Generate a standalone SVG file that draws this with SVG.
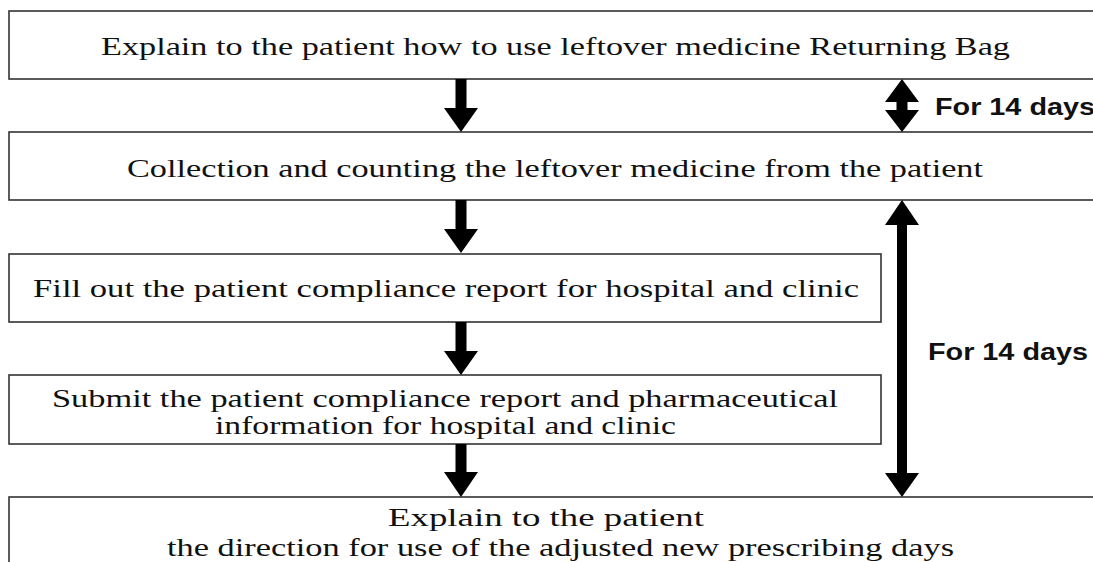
<svg xmlns="http://www.w3.org/2000/svg" width="1093" height="562" viewBox="0 0 1093 562">
  <style>
    .box { fill: #ffffff; stroke: #333333; stroke-width: 1.6; }
    .lbl { font-family: "Liberation Serif", "DejaVu Serif", serif; font-size: 26px; fill: #111111; }
    .span { font-family: "Liberation Sans", Arial, sans-serif; font-weight: bold; font-size: 23px; fill: #111111; }
    .arrow { fill: #000000; }
  </style>
  <rect width="1093" height="562" fill="#ffffff"/>

  <g id="step-explain-bag">
    <rect class="box" x="9" y="11" width="1100" height="68"/>
    <text class="lbl" x="101" y="55" textLength="909" lengthAdjust="spacingAndGlyphs">Explain to the patient how to use leftover medicine Returning Bag</text>
  </g>

  <g id="step-collect">
    <rect class="box" x="9" y="132" width="1100" height="68"/>
    <text class="lbl" x="127" y="177" textLength="856" lengthAdjust="spacingAndGlyphs">Collection and counting the leftover medicine from the patient</text>
  </g>

  <g id="step-fill-report">
    <rect class="box" x="9" y="254" width="872" height="68"/>
    <text class="lbl" x="33" y="297" textLength="826" lengthAdjust="spacingAndGlyphs">Fill out the patient compliance report for hospital and clinic</text>
  </g>

  <g id="step-submit-report">
    <rect class="box" x="9" y="375" width="872" height="69"/>
    <text class="lbl" x="52" y="407" textLength="786" lengthAdjust="spacingAndGlyphs">Submit the patient compliance report and pharmaceutical</text>
    <text class="lbl" x="215" y="434" textLength="461" lengthAdjust="spacingAndGlyphs">information for hospital and clinic</text>
  </g>

  <g id="step-explain-days">
    <rect class="box" x="9" y="497" width="1100" height="80"/>
    <text class="lbl" x="388" y="526" textLength="316" lengthAdjust="spacingAndGlyphs">Explain to the patient</text>
    <text class="lbl" x="167" y="556" textLength="787" lengthAdjust="spacingAndGlyphs">the direction for use of the adjusted new prescribing days</text>
  </g>

  <g id="connectors">
    <!-- flow arrows between steps -->
    <path class="arrow" d="M455.5,79 H466.5 V108 H478 L461,132 L444,108 H455.5 Z"/>
    <path class="arrow" d="M455.5,200 H466.5 V229 H478 L461,253 L444,229 H455.5 Z"/>
    <path class="arrow" d="M455.5,322 H466.5 V351 H478 L461,375 L444,351 H455.5 Z"/>
    <path class="arrow" d="M455.5,444 H466.5 V472 H478 L461,497 L444,472 H455.5 Z"/>

    <!-- short interval: step 1 to step 2 -->
    <path class="arrow" d="M902,79 L919,102 H907.5 V110 H919 L902,132 L885,110 H896.5 V102 H885 Z"/>
    <!-- long interval: step 2 to step 5 -->
    <path class="arrow" d="M902,200 L919,225 H907 V473 H919 L902,497 L885,473 H897 V225 H885 Z"/>
  </g>

  <g id="interval-labels">
    <text class="span" x="935" y="115" textLength="160" lengthAdjust="spacingAndGlyphs">For 14 days</text>
    <text class="span" x="928" y="360" textLength="160" lengthAdjust="spacingAndGlyphs">For 14 days</text>
  </g>
</svg>
